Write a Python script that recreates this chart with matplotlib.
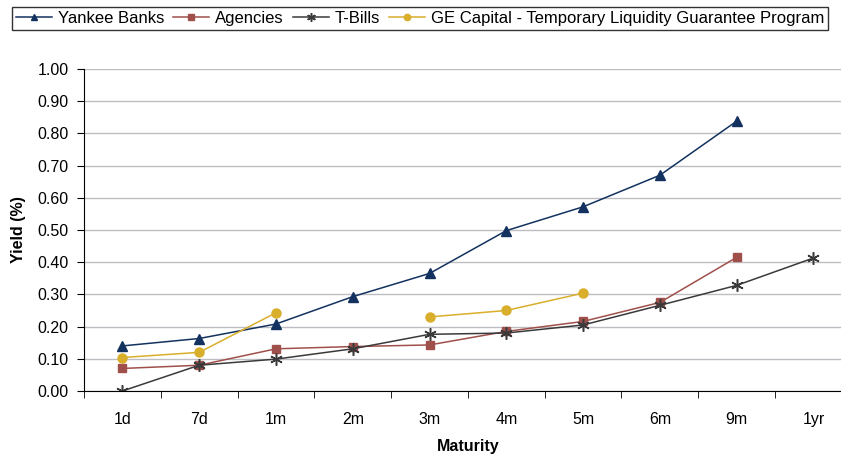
import matplotlib
matplotlib.use("Agg")
import matplotlib.pyplot as plt
import numpy as np

plt.rcParams['font.family'] = ['Liberation Sans', 'DejaVu Sans']

maturities = ['1d', '7d', '1m', '2m', '3m', '4m', '5m', '6m', '9m', '1yr']
yankee = [0.14, 0.163, 0.208, 0.293, 0.365, 0.498, 0.572, 0.67, 0.838, np.nan]
agencies = [0.07, 0.08, 0.131, 0.138, 0.143, 0.185, 0.216, 0.275, 0.415, np.nan]
tbills = [0.0, 0.08, 0.099, 0.131, 0.176, 0.18, 0.205, 0.266, 0.328, 0.413]
ge_tlgp = [0.104, 0.12, 0.243, np.nan, 0.23, 0.25, 0.304, np.nan, np.nan, np.nan]

fig = plt.figure(figsize=(8.41, 4.58), dpi=100)
ax = fig.add_axes([0.0999, 0.1463, 0.913, 0.7031])

x = np.arange(len(maturities))
ax.plot(x, yankee, color='#13325f', marker='^', markersize=7, lw=1.1, label='Yankee Banks')
ax.plot(x, agencies, color='#a0504b', marker='s', markersize=6, lw=1.1, label='Agencies')
# asterisco a sei punte come in Excel
ax.plot(x, tbills, color='#3a3a3a', marker=(6, 2, 0), markersize=9, mew=1.1, lw=1.1, label='T-Bills')
# la serie GE si interrompe a 2m
ax.plot(x, ge_tlgp, color='#d8ae2a', marker='o', markersize=6.5, lw=1.1,
        label='GE Capital - Temporary Liquidity Guarantee Program')

ax.set_xlim(-0.5, 9.5)
ax.set_ylim(0, 1.0)
yt = np.arange(0, 1.01, 0.1)
ax.set_yticks(yt)
ax.set_yticklabels(['%.2f' % v for v in yt], fontsize=11.5)
ax.set_xticks(x)
ax.set_xticklabels(maturities, fontsize=11.5)
ax.set_xticks(np.arange(-0.5, 10, 1), minor=True)
ax.tick_params(axis='x', which='major', length=0, pad=15)
ax.tick_params(axis='x', which='minor', length=5, color='black')
ax.tick_params(axis='y', length=5, color='black', pad=6)

ax.grid(axis='y', color='#bdbdc3', lw=1)
ax.set_axisbelow(True)
for s in ['top', 'right']:
    ax.spines[s].set_visible(False)
ax.spines['left'].set_color('black')
ax.spines['bottom'].set_color('black')

ax.set_ylabel('Yield (%)', fontsize=11.5, fontweight='bold', labelpad=8)
ax.set_xlabel('Maturity', fontsize=11.5, fontweight='bold', labelpad=9)

leg = fig.legend(loc='upper left', bbox_to_anchor=(12 / 841, 1 - 7 / 458),
                 ncol=4, fontsize=12, frameon=True, fancybox=False, edgecolor='black',
                 handlelength=2.15, handletextpad=0.35, columnspacing=0.55, borderpad=0.25,
                 borderaxespad=0, markerscale=0.7)
leg.get_frame().set_linewidth(1.0)

fig.savefig('out.png', dpi=100)
